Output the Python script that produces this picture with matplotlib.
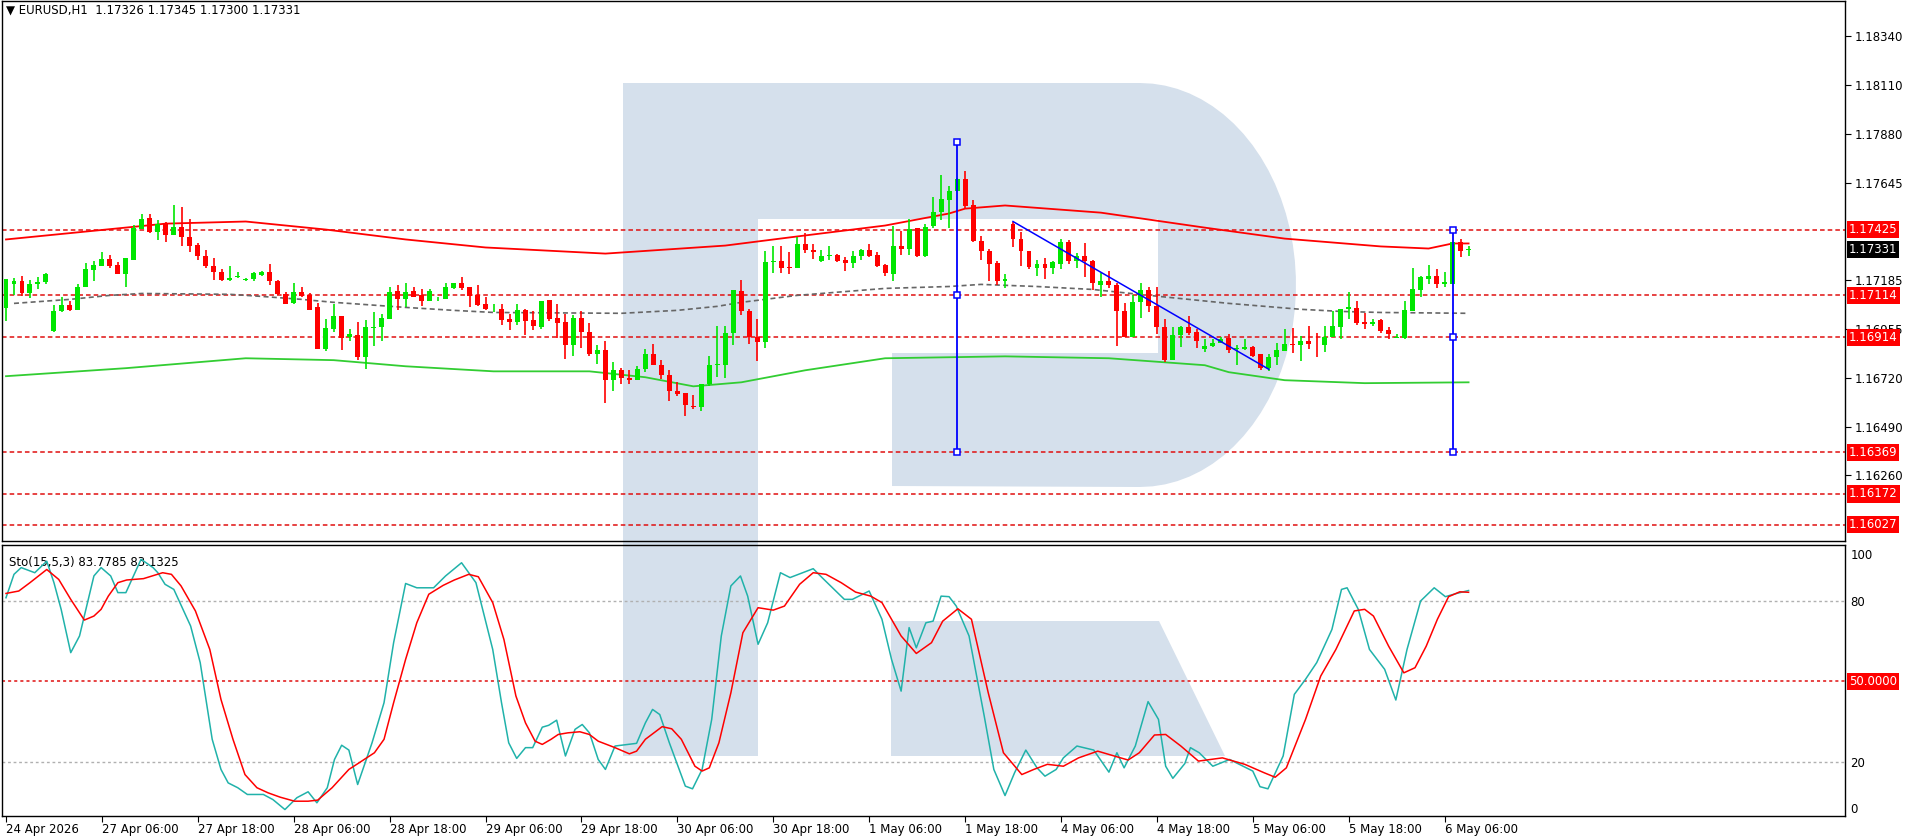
import numpy as np
import matplotlib.pyplot as plt
from matplotlib.patches import Polygon
from matplotlib.transforms import blended_transform_factory

# ---- hourly EURUSD candles (bar 0 = 24 Apr 18:00, bar 183 = 6 May 09:00) ----
opens = [1.17053, 1.17167, 1.17183, 1.17123, 1.17167, 1.17175, 1.16943, 1.17041, 1.17069, 1.17045,
         1.17151, 1.17235, 1.17254, 1.17286, 1.17257, 1.17213, 1.17282, 1.17428, 1.17480, 1.17412,
         1.17451, 1.17401, 1.17439, 1.17391, 1.17352, 1.17301, 1.17254, 1.17225, 1.17188, 1.17199,
         1.17188, 1.17189, 1.17208, 1.17225, 1.17179, 1.17121, 1.17076, 1.17127, 1.17117, 1.17056,
         1.16861, 1.16953, 1.17013, 1.16915, 1.16923, 1.16820, 1.16959, 1.16963, 1.17001, 1.17132,
         1.17095, 1.17132, 1.17113, 1.17086, 1.17094, 1.17095, 1.17149, 1.17170, 1.17151, 1.17113,
         1.17070, 1.17051, 1.17049, 1.16999, 1.16986, 1.17045, 1.16994, 1.16962, 1.17089, 1.17005,
         1.16986, 1.16877, 1.17005, 1.16939, 1.16833, 1.16852, 1.16713, 1.16757, 1.16722, 1.16713,
         1.16763, 1.16836, 1.16781, 1.16738, 1.16662, 1.16650, 1.16591, 1.16583, 1.16691, 1.16785,
         1.16785, 1.16934, 1.17136, 1.17040, 1.16917, 1.16890, 1.17272, 1.17277, 1.17249, 1.17241,
         1.17356, 1.17329, 1.17274, 1.17298, 1.17305, 1.17282, 1.17266, 1.17298, 1.17329, 1.17305,
         1.17258, 1.17212, 1.17348, 1.17335, 1.17430, 1.17301, 1.17440, 1.17506, 1.17565, 1.17606,
         1.17666, 1.17542, 1.17372, 1.17324, 1.17268, 1.17182, 1.17451, 1.17380, 1.17324, 1.17245,
         1.17261, 1.17241, 1.17264, 1.17367, 1.17277, 1.17299, 1.17277, 1.17163, 1.17182, 1.17163,
         1.17040, 1.16917, 1.17080, 1.17140, 1.17064, 1.16964, 1.16808, 1.16923, 1.16964, 1.16939,
         1.16857, 1.16871, 1.16887, 1.16909, 1.16857, 1.16861, 1.16868, 1.16833, 1.16768, 1.16820,
         1.16849, 1.16883, 1.16879, 1.16895, 1.16883, 1.16876, 1.16915, 1.16962, 1.17048, 1.17054,
         1.16985, 1.16977, 1.16994, 1.16947, 1.16912, 1.16912, 1.17041, 1.17138, 1.17190, 1.17207,
         1.17168, 1.17168, 1.17364, 1.17326]
highs = [1.17191, 1.17194, 1.17207, 1.17188, 1.17202, 1.17218, 1.17069, 1.17104, 1.17088, 1.17167,
         1.17265, 1.17278, 1.17320, 1.17306, 1.17273, 1.17290, 1.17448, 1.17499, 1.17499, 1.17470,
         1.17459, 1.17543, 1.17534, 1.17475, 1.17361, 1.17328, 1.17290, 1.17238, 1.17254, 1.17225,
         1.17196, 1.17222, 1.17228, 1.17264, 1.17184, 1.17130, 1.17174, 1.17155, 1.17124, 1.17075,
         1.16999, 1.17070, 1.17013, 1.16952, 1.16985, 1.16994, 1.17032, 1.17027, 1.17155, 1.17160,
         1.17170, 1.17155, 1.17144, 1.17141, 1.17105, 1.17170, 1.17170, 1.17198, 1.17151, 1.17160,
         1.17103, 1.17070, 1.17070, 1.17026, 1.17073, 1.17049, 1.17037, 1.17084, 1.17089, 1.17073,
         1.17026, 1.17022, 1.17037, 1.16980, 1.16880, 1.16899, 1.16797, 1.16770, 1.16757, 1.16776,
         1.16857, 1.16883, 1.16809, 1.16757, 1.16702, 1.16650, 1.16639, 1.16694, 1.16828, 1.16970,
         1.16966, 1.17139, 1.17187, 1.17048, 1.17001, 1.17324, 1.17345, 1.17348, 1.17320, 1.17391,
         1.17408, 1.17356, 1.17329, 1.17346, 1.17310, 1.17293, 1.17324, 1.17334, 1.17358, 1.17320,
         1.17264, 1.17443, 1.17416, 1.17474, 1.17432, 1.17451, 1.17577, 1.17685, 1.17633, 1.17669,
         1.17704, 1.17565, 1.17396, 1.17332, 1.17277, 1.17214, 1.17463, 1.17411, 1.17324, 1.17282,
         1.17288, 1.17277, 1.17380, 1.17375, 1.17315, 1.17362, 1.17282, 1.17219, 1.17230, 1.17170,
         1.17076, 1.17114, 1.17173, 1.17154, 1.17151, 1.17001, 1.16964, 1.16969, 1.17016, 1.16953,
         1.16904, 1.16906, 1.16917, 1.16931, 1.16876, 1.16907, 1.16871, 1.16833, 1.16836, 1.16888,
         1.16955, 1.16959, 1.16921, 1.16969, 1.16936, 1.16969, 1.17038, 1.17049, 1.17131, 1.17084,
         1.17030, 1.17003, 1.17003, 1.16961, 1.16931, 1.17084, 1.17245, 1.17207, 1.17255, 1.17240,
         1.17226, 1.17364, 1.17378, 1.17345]
lows = [1.16993, 1.17116, 1.17112, 1.17101, 1.17143, 1.17167, 1.16938, 1.17033, 1.17041, 1.17045,
        1.17151, 1.17183, 1.17254, 1.17241, 1.17213, 1.17154, 1.17282, 1.17428, 1.17407, 1.17377,
        1.17368, 1.17401, 1.17349, 1.17320, 1.17282, 1.17241, 1.17188, 1.17180, 1.17180, 1.17196,
        1.17180, 1.17181, 1.17204, 1.17162, 1.17116, 1.17070, 1.17070, 1.17105, 1.17042, 1.16857,
        1.16849, 1.16939, 1.16852, 1.16896, 1.16809, 1.16764, 1.16871, 1.16896, 1.17001, 1.17043,
        1.17057, 1.17103, 1.17062, 1.17086, 1.17084, 1.17095, 1.17143, 1.17138, 1.17057, 1.17062,
        1.17043, 1.17032, 1.16973, 1.16951, 1.16973, 1.16923, 1.16947, 1.16953, 1.16991, 1.16912,
        1.16811, 1.16828, 1.16863, 1.16825, 1.16789, 1.16602, 1.16659, 1.16694, 1.16691, 1.16710,
        1.16749, 1.16782, 1.16718, 1.16612, 1.16635, 1.16541, 1.16575, 1.16567, 1.16684, 1.16725,
        1.16721, 1.16876, 1.17018, 1.16882, 1.16803, 1.16863, 1.17217, 1.17217, 1.17214, 1.17241,
        1.17312, 1.17283, 1.17269, 1.17282, 1.17269, 1.17230, 1.17241, 1.17282, 1.17296, 1.17249,
        1.17206, 1.17179, 1.17305, 1.17305, 1.17293, 1.17296, 1.17430, 1.17470, 1.17430, 1.17606,
        1.17527, 1.17367, 1.17282, 1.17182, 1.17163, 1.17147, 1.17343, 1.17253, 1.17238, 1.17203,
        1.17189, 1.17214, 1.17238, 1.17264, 1.17245, 1.17201, 1.17138, 1.17103, 1.17146, 1.16874,
        1.16917, 1.16914, 1.17008, 1.17032, 1.16928, 1.16795, 1.16806, 1.16869, 1.16923, 1.16862,
        1.16843, 1.16869, 1.16885, 1.16838, 1.16785, 1.16855, 1.16823, 1.16760, 1.16754, 1.16781,
        1.16849, 1.16839, 1.16800, 1.16858, 1.16820, 1.16844, 1.16915, 1.16905, 1.17000, 1.16972,
        1.16953, 1.16966, 1.16934, 1.16907, 1.16910, 1.16905, 1.17038, 1.17105, 1.17168, 1.17147,
        1.17152, 1.17168, 1.17294, 1.17300]
closes = [1.17191, 1.17183, 1.17123, 1.17167, 1.17178, 1.17214, 1.17041, 1.17069, 1.17045, 1.17154,
          1.17238, 1.17259, 1.17286, 1.17254, 1.17213, 1.17290, 1.17432, 1.17475, 1.17412, 1.17451,
          1.17401, 1.17439, 1.17388, 1.17349, 1.17298, 1.17251, 1.17222, 1.17188, 1.17196, 1.17205,
          1.17188, 1.17217, 1.17225, 1.17181, 1.17121, 1.17072, 1.17127, 1.17111, 1.17046, 1.16861,
          1.16959, 1.17013, 1.16910, 1.16928, 1.16820, 1.16961, 1.16963, 1.17004, 1.17127, 1.17095,
          1.17127, 1.17105, 1.17086, 1.17132, 1.17094, 1.17151, 1.17170, 1.17149, 1.17110, 1.17067,
          1.17048, 1.17051, 1.16997, 1.16986, 1.17045, 1.16991, 1.16967, 1.17084, 1.16999, 1.16981,
          1.16877, 1.17005, 1.16939, 1.16833, 1.16852, 1.16713, 1.16757, 1.16722, 1.16713, 1.16765,
          1.16836, 1.16782, 1.16738, 1.16659, 1.16646, 1.16594, 1.16583, 1.16694, 1.16785, 1.16789,
          1.16937, 1.17139, 1.17038, 1.16914, 1.16890, 1.17272, 1.17277, 1.17245, 1.17241, 1.17356,
          1.17328, 1.17317, 1.17299, 1.17305, 1.17274, 1.17266, 1.17299, 1.17329, 1.17301, 1.17253,
          1.17217, 1.17348, 1.17335, 1.17427, 1.17301, 1.17438, 1.17509, 1.17572, 1.17606, 1.17666,
          1.17538, 1.17372, 1.17321, 1.17264, 1.17182, 1.17190, 1.17378, 1.17321, 1.17249, 1.17261,
          1.17241, 1.17269, 1.17367, 1.17277, 1.17299, 1.17277, 1.17170, 1.17182, 1.17163, 1.17037,
          1.16917, 1.17083, 1.17140, 1.17061, 1.16961, 1.16808, 1.16926, 1.16964, 1.16937, 1.16898,
          1.16874, 1.16888, 1.16906, 1.16854, 1.16863, 1.16868, 1.16828, 1.16770, 1.16823, 1.16852,
          1.16883, 1.16879, 1.16895, 1.16882, 1.16882, 1.16918, 1.16966, 1.17049, 1.17060, 1.16981,
          1.16977, 1.16988, 1.16943, 1.16929, 1.16918, 1.17046, 1.17141, 1.17198, 1.17207, 1.17165,
          1.17176, 1.17364, 1.17323, 1.17331]

# ---- moving averages, read at sample bars ----
ma_red_bars = [0, 20, 30, 40, 50, 60, 75, 90, 100, 110, 118, 120, 125, 137, 150, 160, 172, 178, 181, 183]
ma_red = [1.17378, 1.17453, 1.17463, 1.17425, 1.17378, 1.17340, 1.17311, 1.17349, 1.17397, 1.17444,
          1.17501, 1.17524, 1.17539, 1.17505, 1.17434, 1.17382, 1.17345, 1.17335, 1.17359, 1.17359]
ma_green_bars = [0, 15, 30, 41, 50, 61, 73, 80, 86, 92, 100, 110, 125, 138, 150, 153, 160, 170, 183]
ma_green = [1.16730, 1.16768, 1.16815, 1.16806, 1.16777, 1.16753, 1.16753, 1.16725, 1.16682, 1.16701,
            1.16758, 1.16815, 1.16824, 1.16815, 1.16782, 1.16749, 1.16711, 1.16697, 1.16701]
ma_gray_bars = [1, 8, 13, 17, 28, 32, 37, 41, 50, 56, 61, 77, 84, 89, 92, 99, 110, 118, 122, 129,
                136, 143, 153, 162, 167, 172, 183]
ma_gray = [1.17075, 1.17094, 1.17113, 1.17122, 1.17118, 1.17108, 1.17094, 1.17080, 1.17056, 1.17042,
           1.17032, 1.17028, 1.17042, 1.17061, 1.17080, 1.17113, 1.17146, 1.17155, 1.17165, 1.17155,
           1.17141, 1.17113, 1.17075, 1.17047, 1.17037, 1.17032, 1.17028]

levels = [1.17425, 1.17114, 1.16914, 1.16369, 1.16172, 1.16027]
last_price = 1.17331
price_ticks = [1.18340, 1.18110, 1.17880, 1.17645, 1.17185, 1.16955, 1.16720, 1.16490, 1.16260]

# ---- stochastic (15,5,3) ----
sto_main_bars = [0, 1.0, 1.9, 3.6, 5.1, 6.0, 6.9, 8.1, 9.2, 11.0, 11.9, 13.1, 14.0, 15.0, 16.9, 18.4,
                 19.0, 19.9, 21.0, 23.1, 24.3, 25.8, 26.9, 27.8, 29.0, 30.2, 32.2, 33.4, 34.9, 36.4,
                 37.8, 38.9, 40.2, 41.1, 42.0, 42.9, 44.0, 45.8, 47.3, 48.5, 50.0, 51.4, 53.5, 55.0,
                 57.0, 58.8, 60.9, 62.0, 62.9, 63.9, 65.0, 65.9, 67.1, 67.9, 68.9, 70.0, 71.2, 72.1,
                 73.0, 74.1, 75.0, 76.2, 78.9, 80.0, 80.9, 81.8, 83.0, 85.0, 85.9, 87.1, 88.3, 89.5,
                 90.7, 91.9, 92.8, 94.1, 95.3, 96.9, 98.1, 101.0, 102.1, 104.9, 105.9, 108.0, 109.6,
                 110.8, 112.0, 113.0, 113.9, 115.1, 116.0, 117.0, 118.0, 118.9, 120.5, 122.4, 123.6,
                 125.0, 126.2, 127.6, 129.0, 130.0, 131.4, 132.3, 134.0, 136.1, 138.0, 139.0, 139.9,
                 141.3, 142.9, 144.2, 145.1, 146.0, 147.5, 148.2, 149.3, 151.0, 153.1, 156.0, 156.9,
                 157.9, 159.8, 161.2, 162.6, 164.0, 165.9, 167.1, 167.8, 169.2, 170.6, 172.5, 173.9,
                 175.3, 177.0, 178.7, 180.1, 181.5, 183]
sto_main = [81.1, 89.8, 92.3, 90.4, 94.7, 86.7, 76.8, 60.7, 66.9, 89.2, 92.3, 89.2, 83.0, 83.0, 95.4,
            92.3, 90.4, 86.1, 84.2, 70.6, 57.0, 28.5, 17.3, 12.3, 10.5, 8.0, 8.0, 6.1, 2.4, 6.8, 9.0,
            4.9, 10.5, 21.0, 26.3, 24.5, 11.7, 27.2, 42.1, 64.4, 86.4, 84.8, 84.8, 89.2, 94.1, 86.7,
            61.9, 42.1, 27.2, 21.4, 25.4, 25.4, 33.0, 33.7, 35.6, 22.3, 32.2, 34.0, 30.9, 21.0, 17.3,
            26.0, 27.0, 34.6, 39.6, 37.7, 27.2, 11.1, 10.1, 17.3, 35.9, 66.9, 85.5, 89.2, 81.7, 63.8,
            71.8, 90.4, 88.6, 91.9, 88.6, 80.5, 80.5, 83.6, 73.1, 58.2, 46.4, 70.0, 62.5, 71.8, 72.4,
            81.7, 81.5, 78.0, 66.9, 37.1, 17.3, 7.6, 16.1, 24.5, 17.9, 14.8, 17.3, 21.6, 26.0, 24.5,
            16.3, 23.5, 17.9, 26.0, 42.5, 35.9, 18.5, 14.0, 19.5, 25.4, 23.5, 18.5, 21.0, 16.7, 10.9,
            10.1, 22.3, 45.2, 50.8, 57.0, 69.3, 84.2, 84.8, 76.8, 61.9, 54.5, 43.1, 61.9, 79.9, 84.8,
            81.5, 82.7, 83.78]
sto_sig_bars = [0, 1.6, 3.0, 5.1, 6.6, 8.1, 9.8, 11.0, 11.9, 12.8, 14.0, 15.1, 17.2, 19.6, 20.7, 21.9,
                23.7, 25.5, 26.9, 28.4, 29.9, 31.4, 32.8, 34.3, 36.1, 37.8, 39.0, 40.8, 42.9, 44.3,
                46.1, 47.3, 48.5, 50.0, 51.4, 52.9, 54.7, 56.1, 57.9, 59.1, 60.9, 62.3, 63.8, 65.0,
                66.2, 67.1, 68.2, 69.1, 70.3, 71.8, 73.0, 74.1, 76.2, 78.0, 78.9, 80.0, 82.1, 83.3,
                84.5, 86.2, 87.1, 88.0, 89.2, 90.7, 92.2, 94.1, 96.0, 97.4, 99.3, 101.0, 102.6, 104.5,
                106.3, 108.2, 109.6, 112.0, 113.9, 115.8, 117.2, 119.1, 120.8, 122.9, 124.8, 127.1,
                128.6, 130.3, 132.3, 134.2, 136.6, 139.0, 140.4, 141.8, 143.7, 145.1, 147.0, 149.2,
                152.2, 155.0, 157.4, 158.8, 160.2, 162.6, 164.5, 166.4, 168.7, 170.0, 171.1, 173.0,
                174.9, 176.3, 177.7, 179.1, 180.5, 181.9, 183]
sto_sig = [82.7, 83.6, 86.7, 91.6, 87.9, 80.5, 72.8, 74.3, 76.8, 81.7, 86.7, 87.7, 88.2, 90.4, 89.8,
           85.5, 76.2, 61.9, 43.3, 28.5, 15.4, 10.5, 8.6, 7.0, 5.5, 5.5, 5.9, 10.5, 17.3, 20.0, 23.5,
           28.5, 42.1, 58.2, 71.8, 82.4, 85.7, 87.7, 89.8, 88.9, 79.3, 65.6, 44.6, 34.6, 27.8, 26.6,
           28.5, 30.3, 30.9, 31.3, 30.3, 27.8, 25.4, 23.1, 24.1, 28.5, 33.2, 32.4, 28.5, 18.5, 16.7,
           17.9, 27.2, 45.8, 68.1, 77.4, 76.5, 78.0, 86.1, 90.4, 89.8, 86.7, 83.2, 81.7, 79.3, 66.9,
           60.4, 64.4, 72.4, 77.0, 73.1, 45.8, 23.5, 15.4, 17.3, 19.2, 18.5, 21.6, 24.1, 22.0, 20.8,
           23.5, 30.1, 30.3, 26.0, 20.4, 21.6, 19.2, 16.1, 14.4, 17.9, 35.9, 52.0, 61.9, 76.2, 76.8,
           74.3, 63.1, 53.2, 55.1, 63.1, 73.1, 81.5, 83.3, 83.13]

tick_bars = [0, 12, 24, 36, 48, 60, 72, 84, 96, 108, 120, 132, 144, 156, 168, 180]
tick_labels = ["24 Apr 2026", "27 Apr 06:00", "27 Apr 18:00", "28 Apr 06:00", "28 Apr 18:00",
               "29 Apr 06:00", "29 Apr 18:00", "30 Apr 06:00", "30 Apr 18:00", "1 May 06:00",
               "1 May 18:00", "4 May 06:00", "4 May 18:00", "5 May 06:00", "5 May 18:00", "6 May 06:00"]

W, H = 1916, 840
fig = plt.figure(figsize=(W / 100, H / 100), dpi=100)
FS = 8.5

# watermark logo drawn in figure pixel space
bg = fig.add_axes([0, 0, 1, 1], zorder=0)
bg.set_xlim(0, W)
bg.set_ylim(H, 0)
bg.axis("off")
logo = "#d5e0ec"
t = np.linspace(np.pi / 2, -np.pi / 2, 40)
arc = [(1140 + 156 * np.cos(a), 285 - 202 * np.sin(a)) for a in t]
bowl = [(623, 83)] + arc + [(892, 486), (892, 353), (1158, 353), (1158, 219), (758, 219),
                            (758, 756), (623, 756)]
bg.add_patch(Polygon(bowl, closed=True, color=logo, lw=0))
bg.add_patch(Polygon([(891, 621), (1159, 621), (1225, 756), (891, 756)], closed=True, color=logo, lw=0))

L, R = 2 / W, 1845 / W
ax = fig.add_axes([L, 1 - 541 / H, R - L, 540 / H], zorder=2)
ax2 = fig.add_axes([L, 1 - 816 / H, R - L, 271 / H], zorder=2, sharex=ax)
for a in (ax, ax2):
    a.set_facecolor("none")
    for s in a.spines.values():
        s.set_color("black")
        s.set_linewidth(1.0)

bars = np.arange(len(closes))
o, h, l, c = map(np.array, (opens, highs, lows, closes))
up = c >= o
col = np.where(up, "#00e600", "#ff0000")
ax.vlines(bars, l, h, colors=col, lw=1.2, zorder=4)
ax.bar(bars, np.maximum(np.abs(c - o), 0.000012), bottom=np.minimum(o, c), width=0.62,
       color=col, lw=0, zorder=5)

ax.plot(ma_red_bars, ma_red, color="#ff0000", lw=1.3, zorder=3)
ax.plot(ma_green_bars, ma_green, color="#32cd32", lw=1.3, zorder=3)
ax.plot(ma_gray_bars, ma_gray, color="#666666", lw=1.2, ls=(0, (3, 2)), zorder=3)
for lv in levels:
    ax.axhline(lv, color="#e01010", lw=1.1, ls=(0, (3, 2)), zorder=2)

# blue drawing objects
blue = "#0000ff"
ax.plot([119, 119], [1.17841, 1.16369], color=blue, lw=1.3, zorder=6)
ax.plot([181, 181], [1.17425, 1.16369], color=blue, lw=1.3, zorder=6)
ax.plot([126, 158], [1.17463, 1.16763], color=blue, lw=1.1, zorder=6)
ax.plot([119, 119, 119, 181, 181, 181], [1.17841, 1.17114, 1.16369, 1.17425, 1.16914, 1.16369],
        ls="none", marker="s", ms=4.5, mfc="white", mec=blue, mew=1.1, zorder=7)

ax.set_xlim(-0.5, 230.1)
ax.set_ylim(1.15949, 1.18508)
ax.yaxis.tick_right()
ax.set_yticks(price_ticks)
ax.set_yticklabels([f"{p:.5f}" for p in price_ticks])
ax.tick_params(axis="y", labelsize=FS, length=4, pad=3)
ax.tick_params(axis="x", bottom=False, labelbottom=False)

tr = blended_transform_factory(ax.transAxes, ax.transData)
for lv in levels:
    ax.text(1.002, lv, f"{lv:.5f}", transform=tr, fontsize=FS, color="white", va="center",
            ha="left", bbox=dict(boxstyle="square,pad=0.18", fc="#ff0000", ec="none"), zorder=9)
ax.text(1.002, last_price, f"{last_price:.5f}", transform=tr, fontsize=FS, color="white",
        va="center", ha="left", bbox=dict(boxstyle="square,pad=0.18", fc="black", ec="none"), zorder=9)
ax.text(0.002, 0.995, "▼ EURUSD,H1  1.17326 1.17345 1.17300 1.17331", transform=ax.transAxes,
        fontsize=FS, va="top", ha="left")

# stochastic panel
ax2.plot(sto_main_bars, sto_main, color="#20b2aa", lw=1.1, zorder=4)
ax2.plot(sto_sig_bars, sto_sig, color="#ff0000", lw=1.1, zorder=5)
ax2.axhline(80, color="#b0b0b0", lw=1, ls=(0, (2, 2)))
ax2.axhline(20, color="#b0b0b0", lw=1, ls=(0, (2, 2)))
ax2.axhline(50, color="#e01010", lw=1.1, ls=(0, (2, 2)))
ax2.set_ylim(0, 100.7)
ax2.yaxis.tick_right()
ax2.set_yticks([97.5, 80, 20, 3])
ax2.set_yticklabels(["100", "80", "20", "0"])
ax2.tick_params(axis="y", labelsize=FS, length=0, pad=4)
tr2 = blended_transform_factory(ax2.transAxes, ax2.transData)
ax2.text(1.002, 50, "50.0000", transform=tr2, fontsize=FS, color="white", va="center", ha="left",
         bbox=dict(boxstyle="square,pad=0.18", fc="#ff0000", ec="none"), zorder=9)
ax2.text(0.004, 0.96, "Sto(15,5,3) 83.7785 83.1325", transform=ax2.transAxes, fontsize=FS,
         va="top", ha="left")

ax2.set_xticks(tick_bars)
ax2.set_xticklabels(tick_labels, ha="left")
ax2.tick_params(axis="x", labelsize=FS, length=4, pad=1)

fig.savefig("out.png", dpi=100)
